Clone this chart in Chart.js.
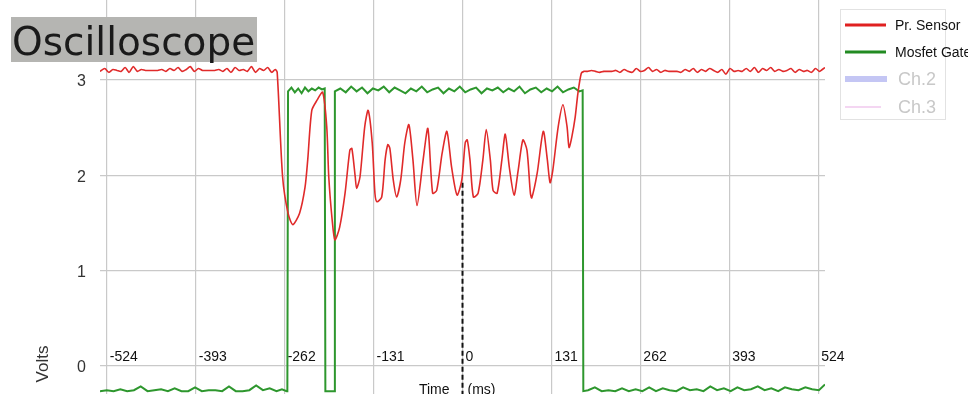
<!DOCTYPE html>
<html>
<head>
<meta charset="utf-8">
<title>Oscilloscope</title>
<script src="https://cdn.jsdelivr.net/npm/chart.js@4.4.1/dist/chart.umd.min.js"></script>
<style>
  html, body { margin: 0; padding: 0; background: #fff; }
  #wrap { width: 968px; height: 394px; position: relative; }
</style>
</head>
<body>
<div id="wrap"><canvas id="scope"></canvas></div>
<script>
// ===== DADOS DO OSCILOSCÓPIO =====
const xTickValues = [-524, -393, -262, -131, 0, 131, 262, 393, 524];
const yTickValues = [0, 1, 2, 3];

// Pr. Sensor (ms / volts)
const redTime = [
  -534, -527, -521, -515, -509, -503, -497, -491, -485, -479,
  -473, -467, -461, -455, -449, -443, -437, -431, -425, -419,
  -413, -407, -401, -395, -389, -383, -377, -371, -365, -359,
  -353, -347, -341, -335, -329, -323, -317, -311, -305, -299,
  -293, -287, -281, -276,
  -273, -265, -257, -250, -240, -232, -228, -222, -214, -206,
  -200, -197, -192, -188, -181, -173, -166, -163, -158, -156,
  -151, -144, -139, -133, -129, -126, -119, -114, -110, -107,
  -102, -97, -91, -85, -79, -73, -67, -58, -51, -44,
  -38, -30, -23, -16, -8, -1, 4, 7, 11, 16,
  23, 30, 35, 41, 45, 51, 58, 63, 69, 76,
  82, 89, 95, 100, 102, 110, 119, 125, 129, 133,
  141, 148, 154, 157, 161, 166, 170, 175, 179,
  184, 190, 196, 202, 208, 214, 220, 226, 232, 238,
  244, 250, 256, 262, 268, 274, 280, 286, 292, 298,
  304, 310, 316, 322, 328, 334, 340, 346, 352, 358,
  364, 370, 376, 382, 388, 394, 400, 406, 412, 418,
  424, 430, 436, 442, 448, 454, 460, 466, 472, 478,
  484, 490, 496, 502, 508, 514, 520, 526, 530, 534
];
const redVolts = [
  3.09, 3.12, 3.08, 3.11, 3.10, 3.09, 3.13, 3.08, 3.14, 3.09,
  3.11, 3.10, 3.10, 3.10, 3.10, 3.11, 3.09, 3.12, 3.10, 3.13,
  3.09, 3.11, 3.14, 3.09, 3.12, 3.10, 3.10, 3.10, 3.10, 3.11,
  3.09, 3.12, 3.08, 3.13, 3.10, 3.11, 3.09, 3.14, 3.08, 3.12,
  3.10, 3.13, 3.08, 3.11,
  3.08, 1.98, 1.60, 1.48, 1.60, 1.87, 2.16, 2.68, 2.79, 2.87,
  2.51, 1.98, 1.53, 1.32, 1.45, 1.81, 2.26, 2.28, 1.98, 1.86,
  1.98, 2.51, 2.68, 2.34, 1.81, 1.72, 1.77, 2.16, 2.32, 2.28,
  1.95, 1.77, 1.95, 2.34, 2.53, 2.16, 1.68, 2.16, 2.49, 1.81,
  1.84, 2.23, 2.46, 2.08, 1.79, 1.95, 2.34, 2.37, 2.16, 1.77,
  1.81, 2.16, 2.48, 2.16, 1.84, 1.81, 2.16, 2.43, 2.08, 1.79,
  2.05, 2.37, 2.26, 1.81, 1.76, 2.02, 2.46, 2.16, 1.92, 2.05,
  2.51, 2.74, 2.51, 2.29, 2.40, 2.61, 2.86, 3.07, 3.09,
  3.09, 3.10, 3.09, 3.08, 3.09, 3.09, 3.09, 3.10, 3.08, 3.11,
  3.09, 3.08, 3.12, 3.09, 3.10, 3.13, 3.09, 3.11, 3.08, 3.10,
  3.09, 3.09, 3.09, 3.08, 3.11, 3.09, 3.12, 3.08, 3.11, 3.09,
  3.12, 3.10, 3.08, 3.11, 3.06, 3.12, 3.09, 3.10, 3.09, 3.12,
  3.09, 3.13, 3.08, 3.12, 3.10, 3.13, 3.09, 3.11, 3.09, 3.10,
  3.12, 3.08, 3.11, 3.09, 3.10, 3.08, 3.12, 3.09, 3.11, 3.13
];

// Mosfet Gate (ms / volts)
const gateTime = [
  -534, -524, -514, -504, -494, -484, -474, -464, -454, -444,
  -434, -424, -414, -404, -394, -384, -374, -364, -354, -344,
  -334, -324, -314, -304, -294, -284, -274, -266, -259, -258,
  -257, -252, -247, -242, -237, -232, -227, -222, -217, -212,
  -207, -203, -202, -195, -189, -188,
  -180, -172, -164, -156, -148, -140, -132, -124, -116, -108,
  -100, -92, -84, -76, -68, -60, -52, -44, -36, -28,
  -20, -12, -4, 4, 12, 20, 28, 36, 44, 52,
  60, 68, 76, 84, 92, 100, 108, 116, 124, 132,
  140, 148, 156, 164, 172, 177, 178,
  185, 195, 205, 215, 225, 235, 245, 255, 265, 275,
  285, 295, 305, 315, 325, 335, 345, 355, 365, 375,
  385, 395, 405, 415, 425, 435, 445, 455, 465, 475,
  485, 495, 505, 515, 525, 534
];
const gateVolts = [
  -0.27, -0.26, -0.27, -0.25, -0.27, -0.26, -0.22, -0.27, -0.26, -0.25,
  -0.27, -0.24, -0.27, -0.27, -0.23, -0.27, -0.26, -0.26, -0.27, -0.22,
  -0.27, -0.27, -0.26, -0.21, -0.26, -0.24, -0.27, -0.25, -0.27, -0.27,
  2.88, 2.92, 2.87, 2.91, 2.86, 2.92, 2.88, 2.91, 2.89, 2.92,
  2.90, 2.91, -0.27, -0.27, -0.27, 2.88,
  2.91, 2.87, 2.93, 2.88, 2.92, 2.86, 2.91, 2.89, 2.93, 2.87,
  2.92, 2.89, 2.86, 2.91, 2.88, 2.93, 2.87, 2.90, 2.92, 2.86,
  2.91, 2.88, 2.93, 2.87, 2.90, 2.92, 2.86, 2.91, 2.89, 2.92,
  2.87, 2.91, 2.88, 2.93, 2.86, 2.90, 2.92, 2.87, 2.91, 2.88,
  2.93, 2.87, 2.90, 2.92, 2.88, 2.89, -0.27,
  -0.26, -0.23, -0.27, -0.26, -0.27, -0.24, -0.27, -0.25, -0.27, -0.23,
  -0.27, -0.24, -0.26, -0.27, -0.23, -0.26, -0.25, -0.27, -0.22, -0.26,
  -0.24, -0.27, -0.23, -0.26, -0.25, -0.22, -0.26, -0.24, -0.27, -0.23,
  -0.25, -0.26, -0.23, -0.25, -0.26, -0.20
];

// cursor tracejado em t = 0
const cursorTime = [0, 0];
const cursorVolts = [1.92, -0.3];

const legendItems = ['Pr. Sensor', 'Mosfet Gate', 'Ch.2', 'Ch.3'];

function toPoints(xs, ys) {
  return xs.map((t, i) => ({ x: t, y: ys[i] }));
}

// ===== TEXTOS / LEGENDA =====
const overlayPlugin = {
  id: 'overlay',
  afterDraw(chart) {
    const { ctx, scales: { x, y } } = chart;
    const sans = '"Liberation Sans", Arial, sans-serif';
    ctx.save();

    // título
    ctx.fillStyle = '#b5b5b2';
    ctx.fillRect(11, 17, 246, 45);
    ctx.fillStyle = '#1a1a1a';
    ctx.font = '39px "DejaVu Sans", sans-serif';
    ctx.textAlign = 'left';
    ctx.textBaseline = 'alphabetic';
    ctx.fillText('Oscilloscope', 12, 55);

    // valores do eixo y
    ctx.fillStyle = '#333';
    ctx.font = '16px ' + sans;
    ctx.textAlign = 'right';
    ctx.textBaseline = 'middle';
    yTickValues.forEach(v => ctx.fillText(String(v), 86, y.getPixelForValue(v) + 2));

    // valores do eixo x (dentro do gráfico)
    ctx.fillStyle = '#111';
    ctx.font = '14px ' + sans;
    ctx.textAlign = 'left';
    ctx.textBaseline = 'alphabetic';
    const y0 = y.getPixelForValue(0);
    xTickValues.forEach(v => ctx.fillText(String(v), x.getPixelForValue(v) + 3, y0 - 4));

    // título do eixo x
    const x0 = x.getPixelForValue(0);
    ctx.textAlign = 'right';
    ctx.fillText('Time', x0 - 13, 394);
    ctx.textAlign = 'left';
    ctx.fillText('(ms)', x0 + 5, 394);

    // título do eixo y
    ctx.save();
    ctx.translate(43, 364);
    ctx.rotate(-Math.PI / 2);
    ctx.textAlign = 'center';
    ctx.textBaseline = 'middle';
    ctx.fillStyle = '#333';
    ctx.font = '17px ' + sans;
    ctx.fillText('Volts', 0, 0);
    ctx.restore();

    // legenda
    ctx.strokeStyle = '#e2e2e2';
    ctx.lineWidth = 1;
    ctx.strokeRect(840.5, 9.5, 105, 110);
    const rows = [
      { color: '#e02020', width: 3, y: 25, x2: 886, font: '14px ' + sans, text: '#111', tx: 895 },
      { color: '#228b22', width: 3, y: 52, x2: 886, font: '14px ' + sans, text: '#111', tx: 895 },
      { color: '#c4c6f4', width: 6, y: 79, x2: 887, font: '18px ' + sans, text: '#c8c8c8', tx: 898 },
      { color: '#f0c8ee', width: 1.5, y: 107, x2: 881, font: '18px ' + sans, text: '#c8c8c8', tx: 898 }
    ];
    rows.forEach((r, i) => {
      ctx.strokeStyle = r.color;
      ctx.lineWidth = r.width;
      ctx.beginPath();
      ctx.moveTo(845, r.y);
      ctx.lineTo(r.x2, r.y);
      ctx.stroke();
      ctx.fillStyle = r.text;
      ctx.font = r.font;
      ctx.textAlign = 'left';
      ctx.textBaseline = 'middle';
      ctx.fillText(legendItems[i], r.tx, r.y + 1);
    });

    ctx.restore();
  }
};

// ===== GRÁFICO =====
const ctxScope = document.getElementById('scope').getContext('2d');
const chartScope = new Chart(ctxScope, {
  type: 'line',
  data: {
    datasets: [
      {
        label: legendItems[0],
        data: toPoints(redTime, redVolts),
        borderColor: '#e02a2a',
        borderWidth: 1.6,
        pointRadius: 0,
        tension: 0.25
      },
      {
        label: 'cursor',
        data: toPoints(cursorTime, cursorVolts),
        borderColor: '#111',
        borderWidth: 2,
        borderDash: [5, 3],
        pointRadius: 0
      },
      {
        label: legendItems[1],
        data: toPoints(gateTime, gateVolts),
        borderColor: '#2e972e',
        borderWidth: 2,
        pointRadius: 0,
        tension: 0
      }
    ]
  },
  options: {
    responsive: true,
    maintainAspectRatio: false,
    animation: false,
    layout: { padding: { left: 100, right: 143, top: 0, bottom: 0 } },
    plugins: {
      legend: { display: false },
      tooltip: { enabled: false }
    },
    scales: {
      x: {
        type: 'linear',
        min: -534,
        max: 534,
        afterBuildTicks: s => { s.ticks = xTickValues.map(v => ({ value: v })); },
        ticks: { display: false },
        grid: { color: '#c9c9c9', lineWidth: 1.2, drawTicks: false },
        border: { display: false }
      },
      y: {
        min: -0.3,
        max: 3.84,
        afterBuildTicks: s => { s.ticks = yTickValues.map(v => ({ value: v })); },
        ticks: { display: false },
        grid: { color: '#c9c9c9', lineWidth: 1.2, drawTicks: false },
        border: { display: false }
      }
    }
  },
  plugins: [overlayPlugin]
});
</script>
</body>
</html>
